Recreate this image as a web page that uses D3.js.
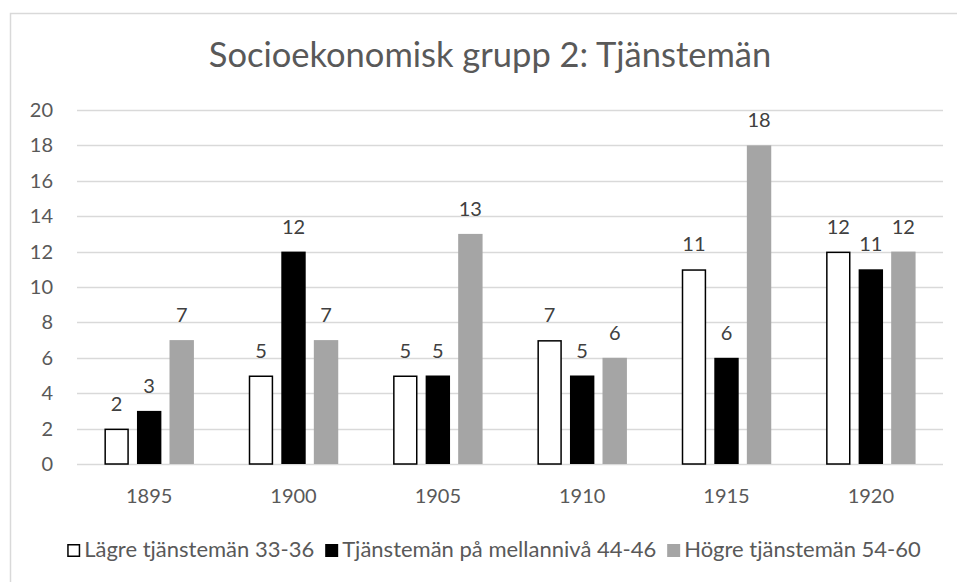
<!DOCTYPE html>
<html>
<head>
<meta charset="utf-8">
<script src="https://cdnjs.cloudflare.com/ajax/libs/d3/7.8.5/d3.min.js"></script>
<style>
  body { margin: 0; background: #fff; }
  svg { display: block; font-family: Lato, 'Open Sans', sans-serif; }
</style>
</head>
<body>
<div id="graph-holder"></div>
<script>
const title = 'Socioekonomisk grupp 2: Tjänstemän';
const years = ['1895', '1900', '1905', '1910', '1915', '1920'];
const seriesNames = ['Lägre tjänstemän 33-36', 'Tjänstemän på mellannivå 44-46', 'Högre tjänstemän 54-60'];
const lagre = [2, 5, 5, 7, 11, 12];
const mellan = [3, 12, 5, 5, 6, 11];
const hogre = [7, 7, 13, 6, 18, 12];
const yTicks = [0, 2, 4, 6, 8, 10, 12, 14, 16, 18, 20];

const svgWidth = 957,
      svgHeight = 582;

const margin = { top: 110, right: 14, bottom: 118, left: 77 };
const width = svgWidth - margin.left - margin.right,
      height = svgHeight - margin.top - margin.bottom;

const labelSize = '20px',
      legendSize = '22px';

const svg = d3.select('#graph-holder')
              .append('svg')
              .attr('width', svgWidth)
              .attr('height', svgHeight);

// chart area border (only left and top edges fall inside the frame)
svg.append('rect')
   .attr('x', 10.5).attr('y', 13.5)
   .attr('width', svgWidth + 20).attr('height', svgHeight + 20)
   .attr('fill', 'none')
   .attr('stroke', '#d9d9d9')
   .attr('stroke-width', 1.5);

svg.append('text')
   .attr('x', 490)
   .attr('y', 67)
   .attr('text-anchor', 'middle')
   .attr('fill', '#595959')
   .style('font-size', '34.5px')
   .text(title);

const g = svg.append('g')
             .attr('transform', `translate(${margin.left}, ${margin.top})`);

const y = d3.scaleLinear().domain([0, 20]).range([height, 0]);
const x0 = d3.scaleBand().domain(years).range([0, width]).paddingInner(0.38).paddingOuter(0.19);
const x1 = d3.scaleBand().domain([0, 1, 2]).range([0, x0.bandwidth()]).paddingInner(0.25);

// gridlines
g.append('g')
  .selectAll('line')
  .data(yTicks)
  .enter()
  .append('line')
  .attr('x1', 0).attr('x2', width)
  .attr('y1', d => Math.round(y(d)) + 0.5)
  .attr('y2', d => Math.round(y(d)) + 0.5)
  .attr('stroke', '#d9d9d9')
  .attr('stroke-width', 1.5);

// y axis labels
const yAxis = d3.axisLeft(y).tickValues(yTicks).tickSize(0).tickPadding(24);
g.append('g')
  .attr('id', 'y-axis')
  .call(yAxis)
  .call(s => s.select('.domain').remove())
  .selectAll('text')
  .attr('fill', '#595959')
  .style('font-family', 'Lato, sans-serif')
  .style('font-size', labelSize);

// x axis labels
const xAxis = d3.axisBottom(x0).tickSize(0).tickPadding(25);
g.append('g')
  .attr('id', 'x-axis')
  .attr('transform', `translate(0,${height})`)
  .call(xAxis)
  .call(s => s.select('.domain').remove())
  .selectAll('text')
  .attr('fill', '#595959')
  .style('font-family', 'Lato, sans-serif')
  .style('font-size', labelSize);

const series = [
  { values: lagre, fill: '#ffffff', stroke: '#000000' },
  { values: mellan, fill: '#000000', stroke: 'none' },
  { values: hogre, fill: '#a5a5a5', stroke: 'none' }
];

const groups = g.append('g')
  .selectAll('g')
  .data(series)
  .enter()
  .append('g');

const inset = s => s.stroke !== 'none' ? 0.75 : 0;

groups.selectAll('rect')
  .data((s, si) => s.values.map((v, i) => ({ v, year: years[i], si, s })))
  .enter()
  .append('rect')
  .attr('x', d => x0(d.year) + x1(d.si) + inset(d.s))
  .attr('y', d => y(d.v) + inset(d.s))
  .attr('width', d => x1.bandwidth() - 2 * inset(d.s))
  .attr('height', d => y(0) - y(d.v) - inset(d.s))
  .attr('fill', d => d.s.fill)
  .attr('stroke', d => d.s.stroke)
  .attr('stroke-width', 1.5);

// data labels
groups.selectAll('text')
  .data((s, si) => s.values.map((v, i) => ({ v, year: years[i], si })))
  .enter()
  .append('text')
  .attr('x', d => x0(d.year) + x1(d.si) + x1.bandwidth() / 2)
  .attr('y', d => y(d.v) - 18)
  .attr('text-anchor', 'middle')
  .attr('fill', '#404040')
  .style('font-size', labelSize)
  .text(d => d.v);

// legend
const legend = svg.append('g').attr('transform', 'translate(0,557)');
const items = legend.selectAll('g')
  .data(seriesNames)
  .enter()
  .append('g');

items.append('text')
  .attr('x', 17)
  .attr('y', 0)
  .attr('fill', '#595959')
  .style('font-size', legendSize)
  .text(d => d);

items.append('rect')
  .attr('x', (d, i) => inset(series[i]))
  .attr('y', (d, i) => -13 + inset(series[i]))
  .attr('width', (d, i) => 13 - 2 * inset(series[i]))
  .attr('height', (d, i) => 13 - 2 * inset(series[i]))
  .attr('fill', (d, i) => series[i].fill)
  .attr('stroke', (d, i) => series[i].stroke)
  .attr('stroke-width', 1.5);

const widths = [];
items.each(function () {
  widths.push(17 + this.querySelector('text').getComputedTextLength());
});
const gap = 11;
const total = d3.sum(widths) + gap * (widths.length - 1);
let cx = 494 - total / 2;
items.attr('transform', (d, i) => {
  const t = `translate(${cx},0)`;
  cx += widths[i] + gap;
  return t;
});
</script>
</body>
</html>
